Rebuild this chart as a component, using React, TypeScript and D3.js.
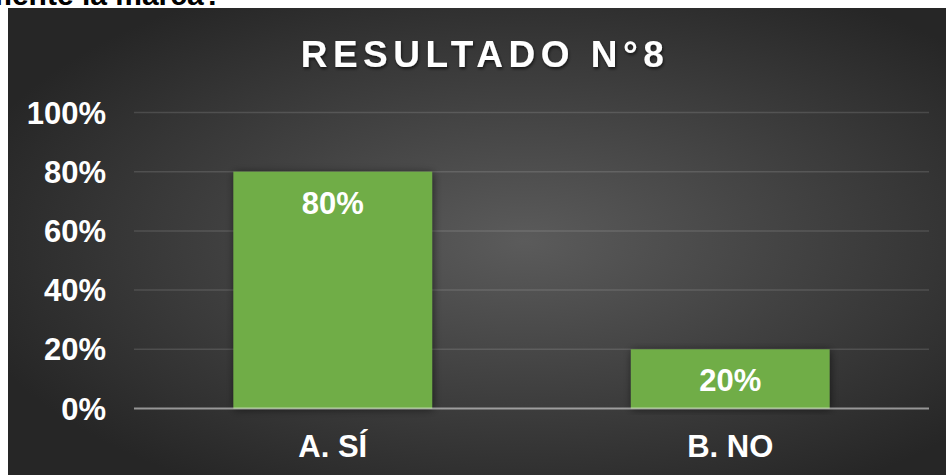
import React from "react";
import * as d3 from "d3";

const categories = ["A. SÍ", "B. NO"];
const values = [0.8, 0.2];
const yTicks = [0, 0.2, 0.4, 0.6, 0.8, 1];
const title = "RESULTADO N°8";
const topText = "frecuentemente la marca?";

const W = 946;
const H = 475;

export default function App() {
  const x = d3
    .scaleBand<string>()
    .domain(categories)
    .range([134, 929])
    .paddingInner(0.5)
    .paddingOuter(0.25);
  const y = d3.scaleLinear().domain([0, 1]).range([408.5, 112.5]);
  const pct = d3.format(".0%");
  const font = "Arial, 'Liberation Sans', sans-serif";

  return (
    <svg
      width={W}
      height={H}
      style={{ position: "absolute", left: 0, top: 0, display: "block" }}
    >
      <defs>
        <radialGradient id="bg" cx="55%" cy="50%" r="62%" fx="55%" fy="50%">
          <stop offset="0%" stopColor="#5b5b5b" />
          <stop offset="100%" stopColor="#262626" />
        </radialGradient>
        <filter id="barShadow" x="-10%" y="-10%" width="120%" height="120%">
          <feDropShadow dx="1" dy="1" stdDeviation="4" floodColor="#000" floodOpacity="0.55" />
        </filter>
        <filter id="textShadow" x="-5%" y="-20%" width="110%" height="150%">
          <feDropShadow dx="1" dy="2" stdDeviation="1.5" floodColor="#000" floodOpacity="0.6" />
        </filter>
      </defs>
      <rect x={0} y={0} width={W} height={H} fill="#ffffff" />
      <text
        x={222}
        y={5}
        textAnchor="end"
        fontFamily={font}
        fontWeight="bold"
        fontSize={30}
        fill="#000"
      >
        {topText}
      </text>
      <rect x={8} y={8} width={W - 8} height={H - 8} fill="url(#bg)" />

      {yTicks.slice(1).map((t) => (
        <line
          key={"g" + t}
          x1={134}
          x2={929}
          y1={y(t)}
          y2={y(t)}
          stroke="#ffffff"
          strokeOpacity={0.13}
          strokeWidth={1.5}
        />
      ))}

      {categories.map((c, i) => (
        <rect
          key={"b" + c}
          x={x(c)}
          y={y(values[i])}
          width={x.bandwidth()}
          height={y(0) - y(values[i])}
          fill="#70ad47"
          filter="url(#barShadow)"
        />
      ))}

      <line
        x1={134}
        x2={929}
        y1={y(0)}
        y2={y(0)}
        stroke="#ffffff"
        strokeOpacity={0.5}
        strokeWidth={2}
      />

      {yTicks.map((t) => (
        <text
          key={"t" + t}
          x={106}
          y={y(t) + 11}
          textAnchor="end"
          fontFamily={font}
          fontWeight="bold"
          fontSize={31}
          fill="#ffffff"
        >
          {pct(t)}
        </text>
      ))}

      {categories.map((c, i) => (
        <text
          key={"l" + c}
          x={(x(c) as number) + x.bandwidth() / 2}
          y={y(values[i]) + 42}
          textAnchor="middle"
          fontFamily={font}
          fontWeight="bold"
          fontSize={31}
          fill="#ffffff"
        >
          {pct(values[i])}
        </text>
      ))}

      {categories.map((c) => (
        <text
          key={"c" + c}
          x={(x(c) as number) + x.bandwidth() / 2}
          y={457}
          textAnchor="middle"
          fontFamily={font}
          fontWeight="bold"
          fontSize={31}
          fill="#ffffff"
        >
          {c}
        </text>
      ))}

      <text
        x={485}
        y={67}
        textAnchor="middle"
        fontFamily={font}
        fontWeight="bold"
        fontSize={37}
        letterSpacing={5.5}
        fill="#ffffff"
        filter="url(#textShadow)"
      >
        {title}
      </text>
    </svg>
  );
}
